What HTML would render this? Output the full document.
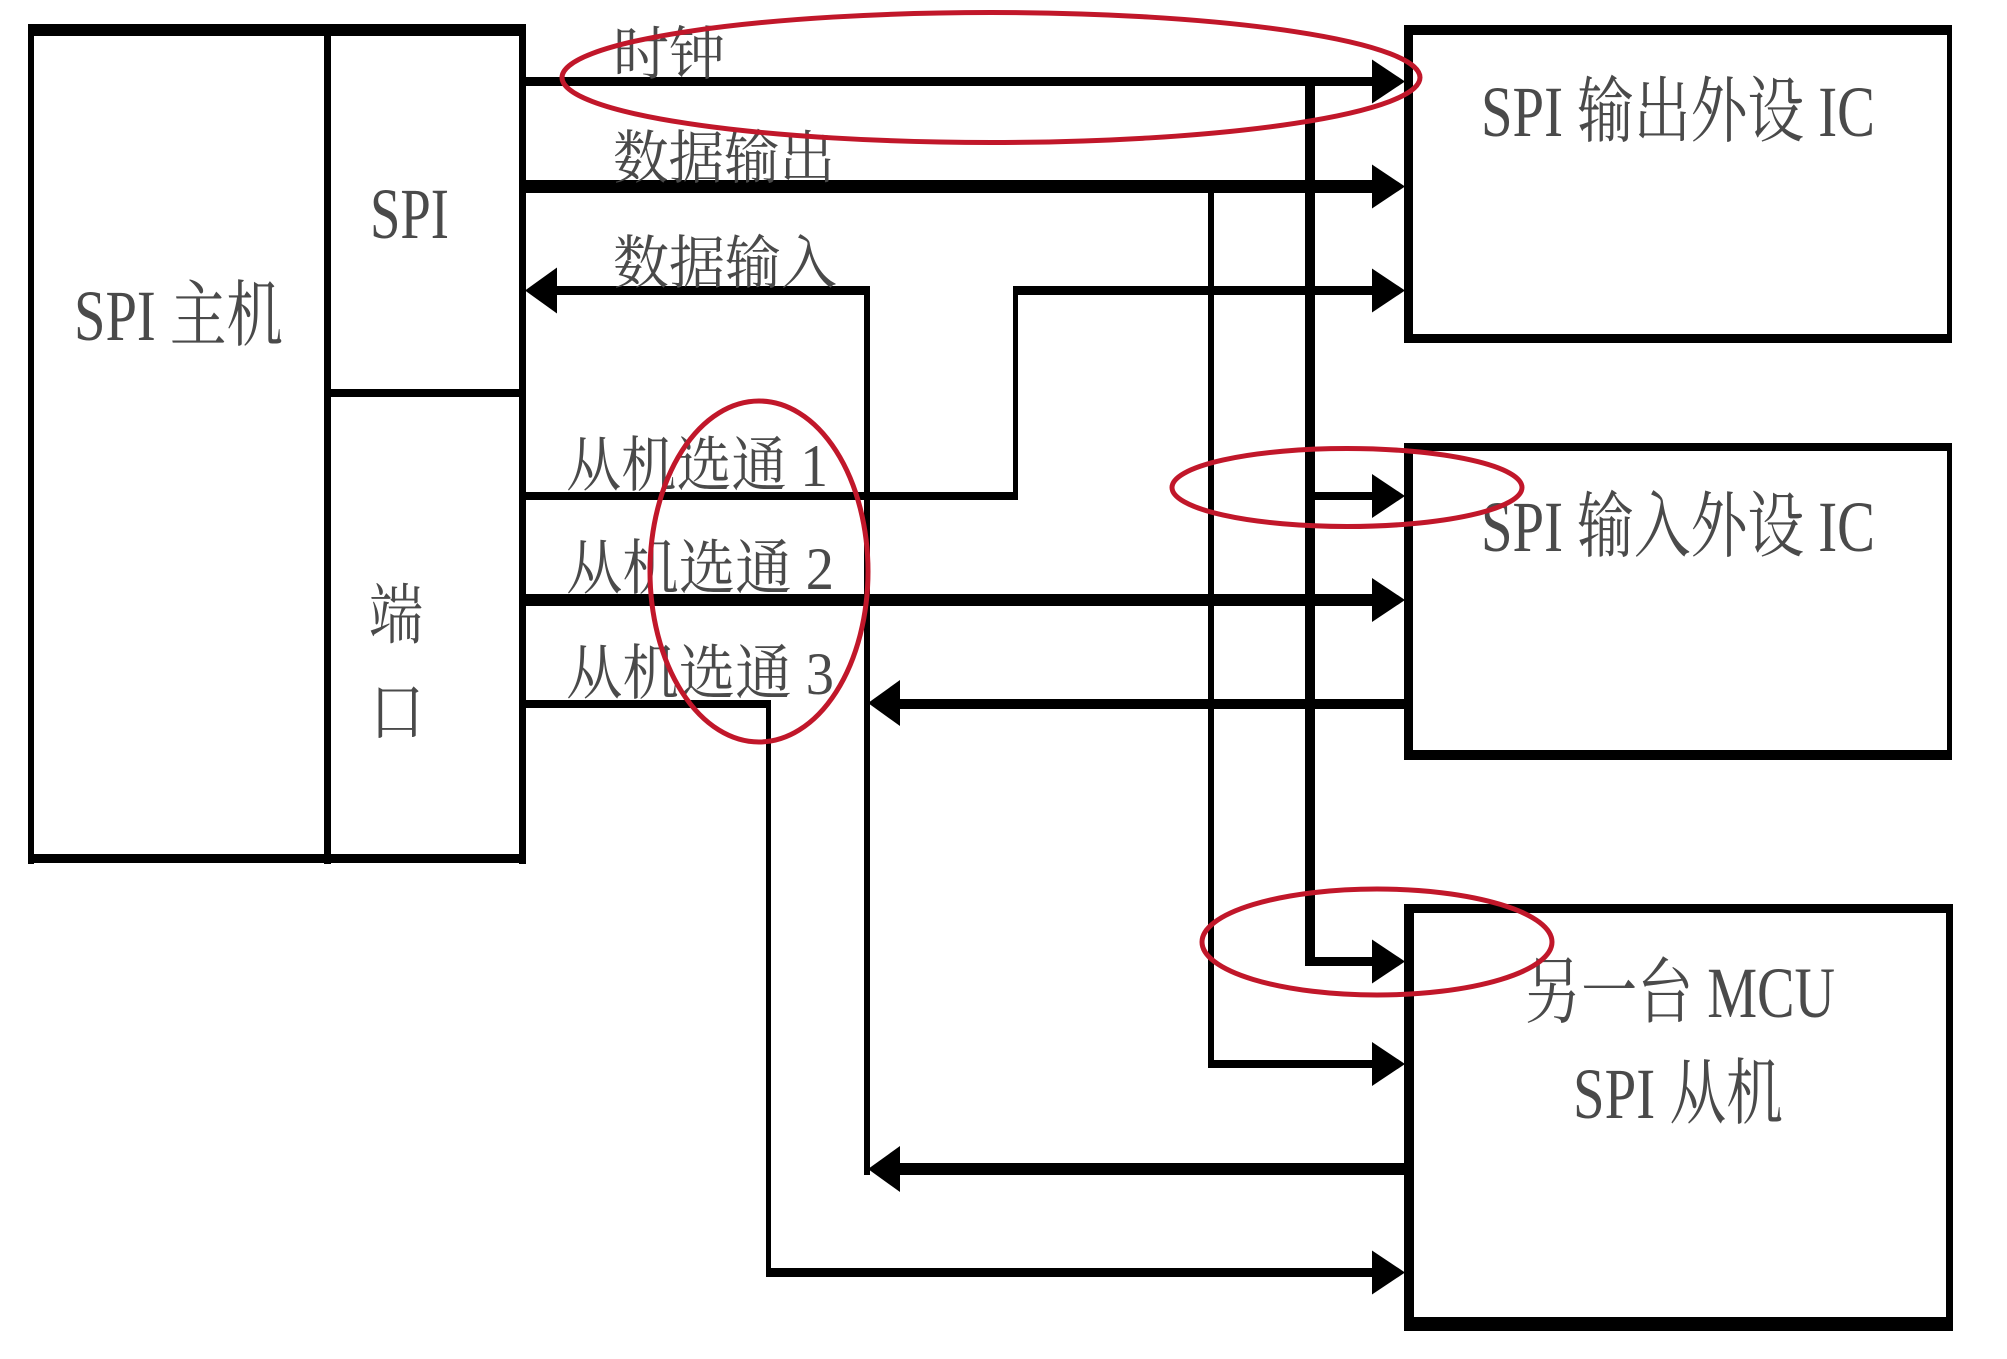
<!DOCTYPE html>
<html>
<head>
<meta charset="utf-8">
<style>
  html, body { margin: 0; padding: 0; background: #fff; }
  body { width: 2007px; height: 1359px; overflow: hidden; }
  svg { display: block; }
  text { font-family: "Liberation Serif", "Noto Serif CJK SC", serif; fill: #4a4a4a; }
</style>
</head>
<body>
<svg width="2007" height="1359" viewBox="0 0 2007 1359" xmlns="http://www.w3.org/2000/svg">
  <rect x="0" y="0" width="2007" height="1359" fill="#fff"/>

  <!-- Master box -->
  <g fill="#000">
    <rect x="28" y="24" width="498" height="12"/>
    <rect x="28" y="24" width="6" height="840"/>
    <rect x="519" y="24" width="7" height="840"/>
    <rect x="28" y="854" width="498" height="9"/>
    <rect x="324" y="24" width="7" height="840"/>
    <rect x="324" y="389" width="202" height="8"/>
  </g>

  <!-- Box 1 -->
  <g fill="#000">
    <rect x="1404" y="25" width="548" height="10"/>
    <rect x="1404" y="25" width="9" height="318"/>
    <rect x="1947" y="25" width="5" height="318"/>
    <rect x="1404" y="334" width="548" height="9"/>
  </g>
  <!-- Box 2 -->
  <g fill="#000">
    <rect x="1404" y="443" width="548" height="8"/>
    <rect x="1404" y="443" width="9" height="317"/>
    <rect x="1947" y="443" width="5" height="317"/>
    <rect x="1404" y="750" width="548" height="10"/>
  </g>
  <!-- Box 3 -->
  <g fill="#000">
    <rect x="1404" y="904" width="549" height="9"/>
    <rect x="1404" y="904" width="10" height="427"/>
    <rect x="1946" y="904" width="7" height="427"/>
    <rect x="1404" y="1317" width="549" height="14"/>
  </g>

  <!-- Connector lines -->
  <g fill="#000">
    <!-- clock -->
    <rect x="526" y="77" width="858" height="9"/>
    <rect x="1305" y="77" width="10" height="889"/>
    <rect x="1305" y="492" width="80" height="8"/>
    <rect x="1305" y="957" width="80" height="9"/>
    <!-- data out -->
    <rect x="526" y="180" width="858" height="13"/>
    <rect x="1208" y="180" width="6" height="888"/>
    <rect x="1208" y="1060" width="176" height="8"/>
    <!-- data in -->
    <rect x="545" y="286" width="325" height="9"/>
    <rect x="864" y="286" width="6" height="889"/>
    <rect x="890" y="699" width="514" height="10"/>
    <rect x="890" y="1163" width="514" height="12"/>
    <!-- SS1 -->
    <rect x="526" y="492" width="492" height="8"/>
    <rect x="1013" y="286" width="5" height="214"/>
    <rect x="1013" y="286" width="371" height="9"/>
    <!-- SS2 -->
    <rect x="526" y="594" width="858" height="12"/>
    <!-- SS3 -->
    <rect x="526" y="700" width="245" height="8"/>
    <rect x="766" y="700" width="5" height="577"/>
    <rect x="766" y="1268" width="618" height="9"/>
  </g>

  <!-- Arrowheads -->
  <g fill="#000">
    <polygon points="1372,59.5 1405,81.5 1372,103.5"/>
    <polygon points="1372,164.5 1405,186.5 1372,208.5"/>
    <polygon points="1372,268.5 1405,290.5 1372,312.5"/>
    <polygon points="1372,474 1405,496 1372,518"/>
    <polygon points="1372,578 1405,600 1372,622"/>
    <polygon points="1372,939.5 1405,961.5 1372,983.5"/>
    <polygon points="1372,1042 1405,1064 1372,1086"/>
    <polygon points="1372,1250.5 1405,1272.5 1372,1294.5"/>
    <polygon points="557,267.5 525,290.5 557,313.5"/>
    <polygon points="900,680 868,703 900,726"/>
    <polygon points="900,1146 868,1169 900,1192"/>
  </g>

  <!-- Box texts -->
  <text x="74" y="340" font-size="72" textLength="209" lengthAdjust="spacingAndGlyphs">SPI 主机</text>
  <text x="370" y="238" font-size="72" textLength="79" lengthAdjust="spacingAndGlyphs">SPI</text>
  <text x="396" y="638" font-size="66" text-anchor="middle" textLength="54" lengthAdjust="spacingAndGlyphs">端</text>
  <text x="397" y="735" font-size="66" text-anchor="middle" textLength="54" lengthAdjust="spacingAndGlyphs">口</text>
  <text x="1481" y="136" font-size="72" textLength="394" lengthAdjust="spacingAndGlyphs">SPI 输出外设 IC</text>
  <text x="1481" y="551" font-size="72" textLength="394" lengthAdjust="spacingAndGlyphs">SPI 输入外设 IC</text>
  <text x="1525" y="1017" font-size="72" textLength="310" lengthAdjust="spacingAndGlyphs">另一台 MCU</text>
  <text x="1573" y="1118" font-size="72" textLength="210" lengthAdjust="spacingAndGlyphs">SPI 从机</text>

  <!-- Line labels -->
  <text x="613" y="74" font-size="58" textLength="112" lengthAdjust="spacingAndGlyphs">时钟</text>
  <text x="613" y="178" font-size="58" textLength="222" lengthAdjust="spacingAndGlyphs">数据输出</text>
  <text x="613" y="283" font-size="58" textLength="224" lengthAdjust="spacingAndGlyphs">数据输入</text>
  <text x="566" y="486" font-size="60" textLength="262" lengthAdjust="spacingAndGlyphs">从机选通 1</text>
  <text x="566" y="589" font-size="60" textLength="268" lengthAdjust="spacingAndGlyphs">从机选通 2</text>
  <text x="566" y="694" font-size="60" textLength="268" lengthAdjust="spacingAndGlyphs">从机选通 3</text>

  <!-- Red highlight ellipses -->
  <g fill="none" stroke="#c1172a" stroke-width="5">
    <ellipse cx="991" cy="77.5" rx="429" ry="65"/>
    <ellipse cx="759" cy="571.5" rx="109" ry="170.5"/>
    <ellipse cx="1347" cy="487.5" rx="175" ry="39"/>
    <ellipse cx="1377" cy="942" rx="175" ry="53"/>
  </g>
</svg>
</body>
</html>
